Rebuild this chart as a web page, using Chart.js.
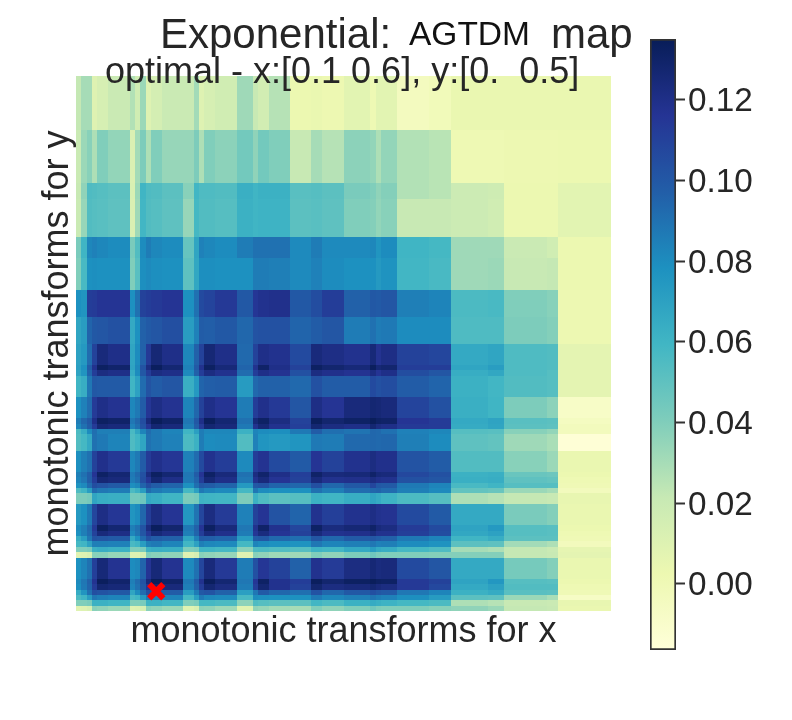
<!DOCTYPE html>
<html>
<head>
<meta charset="utf-8">
<title>Exponential: AGTDM map</title>
<script src="https://cdn.jsdelivr.net/npm/chart.js@4"></script>
<style>
	html, body { margin: 0; padding: 0; background: #fff; }
	#page { position: relative; width: 792px; height: 720px; overflow: hidden; font-family: "Liberation Sans", Arial, sans-serif; color: #262626; }
	#page canvas { position: absolute; top: 0; }
	.label { position: absolute; white-space: pre; line-height: 1; z-index: 2; }
</style>
</head>
<body>
<div id="page">
	<canvas id="heat" width="640" height="720" style="left:0"></canvas>
	<canvas id="bar" width="152" height="720" style="left:640px"></canvas>
	<div class="label" style="left:160px;top:13px;font-size:42px">Exponential:</div>
	<div class="label" style="left:409px;top:17px;font-size:33.5px;color:#111">AGTDM</div>
	<div class="label" style="left:551px;top:13px;font-size:42px">map</div>
	<div class="label" style="left:105px;top:53px;font-size:36px">optimal - x:[0.1 0.6], y:[0.  0.5]</div>
</div>
<script>
// band edges of the 100x100 map, rows counted from the top
var xEdges = [0,1,2,3,4,6,10,11,12,13,14,16,20,22,23,24,26,30,33,34,36,40,44,46,50,55,56,57,60,66,70,77,80,88,90,100];
var yEdges = [0,10,20,23,30,34,40,45,50,54,55,56,60,64,65,66,67,70,74,75,76,77,78,80,84,85,86,87,88,89,90,94,95,96,97,98,99,100];

// AGTDM values x 1000, one row per y band
var cellValues = [
	[22,30,30,10,14,20,27,17,33,10,15,20,20,31,10,14,17,32,21,16,26,3,4,2,8,1,8,8,-4,-2,4,4,4,4,4],
	[20,33,38,28,40,35,12,31,41,28,40,34,34,41,28,40,37,44,36,44,40,21,30,26,37,35,28,35,27,25,1,1,2,2,3],
	[21,36,55,54,53,51,13,33,60,55,54,51,38,59,55,55,54,63,60,62,62,52,53,51,42,40,36,39,27,25,19,18,3,3,8],
	[20,34,54,53,52,50,12,32,59,54,53,50,34,58,54,54,53,62,60,61,61,51,52,50,40,39,35,38,21,21,19,17,3,3,8],
	[42,60,82,84,82,80,42,54,80,86,82,80,48,68,84,82,80,86,90,90,90,81,86,81,81,82,76,80,60,58,32,32,20,17,3],
	[40,57,78,79,78,78,40,52,79,81,79,78,50,67,79,79,78,78,86,86,85,81,84,80,78,78,74,77,59,57,32,33,21,22,3],
	[78,76,112,113,116,116,78,90,110,112,114,116,78,90,106,109,114,100,115,118,119,100,105,112,96,100,99,101,85,83,56,57,40,38,2],
	[68,72,95,100,101,103,66,78,96,99,101,104,72,84,98,97,100,94,102,103,103,95,98,101,86,90,86,87,80,80,55,55,41,39,2],
	[70,74,92,110,124,120,68,80,96,114,126,120,82,96,110,126,120,93,110,120,118,106,124,121,118,125,117,121,110,108,66,68,55,54,7],
	[71,78,98,118,132,129,69,82,102,122,133,127,84,99,118,132,125,95,118,130,120,110,132,128,125,133,126,128,112,112,68,72,55,54,7],
	[69,76,95,112,122,120,65,80,100,112,122,120,81,96,112,122,118,92,112,120,117,103,122,119,117,122,116,120,105,101,64,67,55,53,7],
	[60,64,88,100,99,99,60,70,92,102,98,101,63,74,95,97,98,73,93,96,96,93,103,98,98,106,103,105,98,95,62,59,54,53,7],
	[78,84,92,113,120,117,82,87,98,115,121,117,83,94,110,120,116,86,112,119,114,101,121,116,124,127,126,124,109,103,63,60,41,37,-8],
	[86,94,100,120,132,130,88,94,105,124,134,130,88,100,120,133,127,90,125,131,122,110,133,128,131,134,131,130,116,113,66,69,52,51,-5],
	[82,90,98,113,126,124,84,91,102,115,127,124,85,97,113,127,124,87,118,126,118,111,127,122,120,127,122,120,114,113,65,68,51,50,-3],
	[56,64,80,91,85,85,57,68,83,92,87,83,60,71,86,82,82,62,83,80,79,87,98,91,89,94,93,90,84,82,53,52,38,35,-3],
	[54,58,66,90,87,83,55,60,68,90,87,84,56,62,86,80,81,54,84,76,74,76,87,86,93,94,93,94,85,80,50,49,32,29,-15],
	[79,85,90,110,119,114,82,87,98,113,119,115,84,92,106,118,112,81,112,117,106,99,116,110,118,122,119,119,102,98,54,54,38,33,4],
	[85,90,97,116,131,127,87,93,103,122,132,127,88,98,116,131,124,90,122,129,120,111,130,124,125,130,125,124,107,103,62,63,47,46,3],
	[83,88,97,112,126,124,86,91,104,115,127,120,87,95,112,126,120,88,118,124,116,110,124,118,119,122,119,118,103,101,63,64,50,49,1],
	[77,81,92,105,102,99,79,82,95,104,98,95,78,91,100,98,95,74,100,102,95,94,104,94,100,108,100,99,87,83,57,60,53,53,0],
	[55,60,72,92,88,86,56,62,72,92,87,84,58,70,87,83,81,58,88,80,78,78,90,85,92,94,95,92,85,81,49,47,33,30,-3],
	[41,41,43,68,64,63,44,44,46,66,64,60,41,43,61,60,59,41,62,55,51,53,62,60,64,68,65,61,56,53,28,26,22,21,5],
	[74,78,87,108,121,115,76,80,94,112,122,116,75,89,108,122,113,84,110,116,102,95,118,111,118,121,118,117,106,99,66,66,42,39,4],
	[80,85,93,114,132,127,85,90,102,122,133,128,87,96,116,132,124,88,118,130,118,108,131,123,126,130,124,122,113,106,69,74,53,52,3],
	[78,85,92,110,124,121,82,89,101,114,125,121,85,95,112,124,119,86,115,123,116,110,124,118,119,123,118,118,111,105,67,70,53,52,1],
	[64,72,88,102,101,99,66,78,92,103,98,96,68,84,98,97,95,72,98,100,93,91,101,94,99,101,98,96,87,83,60,64,51,51,0],
	[58,60,70,85,85,84,57,60,72,85,87,83,59,70,85,82,81,58,83,80,78,77,88,83,85,88,84,85,80,77,51,50,31,28,-3],
	[40,40,42,62,64,62,40,40,42,62,64,63,40,42,60,60,58,37,55,56,54,53,61,59,66,72,66,64,58,55,30,28,22,20,6],
	[9,10,13,38,38,34,10,10,14,40,38,36,10,14,38,36,34,10,38,36,32,32,40,36,41,45,41,40,40,39,39,39,22,21,7],
	[78,83,90,111,125,117,80,82,95,116,125,117,81,90,108,124,114,86,103,115,110,96,118,113,122,126,123,124,106,101,66,66,43,39,4],
	[81,88,96,117,133,129,85,92,102,124,134,130,87,98,118,133,127,88,115,131,118,112,133,128,132,134,132,131,114,110,69,75,53,52,3],
	[79,87,95,113,127,125,83,90,100,116,127,124,85,96,112,127,122,86,112,127,118,110,128,122,124,127,124,122,114,107,66,70,54,54,1],
	[65,76,90,104,102,100,68,80,92,104,101,98,72,86,100,102,96,71,88,99,94,91,102,94,100,104,101,99,88,83,62,65,52,51,0],
	[56,60,72,88,85,83,57,60,74,88,86,83,58,72,87,82,81,57,80,79,78,78,87,82,85,89,86,84,79,73,51,50,33,29,-7],
	[40,40,42,62,62,60,40,40,42,62,62,59,40,42,58,58,56,37,55,53,51,51,59,56,62,65,63,61,58,56,28,26,21,20,5],
	[9,10,13,38,36,33,9,10,14,38,36,33,9,13,37,36,32,9,36,34,31,30,40,36,40,45,41,40,40,38,36,33,22,21,4]
];

// colour map stops and colour bar range
var cmapColors = ['#ffffd9','#edf8b1','#c7e9b4','#7fcdbb','#41b6c4','#1d91c0','#225ea8','#253494','#081d58'];
var valueMin = -0.01644;
var valueMax = 0.13505;
var colorbarTicks = [0, 0.02, 0.04, 0.06, 0.08, 0.10, 0.12];

// optimal point, in map index units
var optimalX = [15];
var optimalY = [96.3];

var xTitle = 'monotonic transforms for x';
var yTitle = 'monotonic transforms for y';
var textColor = '#262626';

function hexToRgb(hex){
	return [parseInt(hex.substr(1,2),16), parseInt(hex.substr(3,2),16), parseInt(hex.substr(5,2),16)];
}

function colorFor(value){
	var t = (value - valueMin) / (valueMax - valueMin);
	t = Math.max(0, Math.min(1, t)) * (cmapColors.length - 1);
	var i = Math.min(Math.floor(t), cmapColors.length - 2);
	var a = hexToRgb(cmapColors[i]);
	var b = hexToRgb(cmapColors[i+1]);
	var f = t - i;
	return 'rgb(' + Math.round(a[0]+(b[0]-a[0])*f) + ',' + Math.round(a[1]+(b[1]-a[1])*f) + ',' + Math.round(a[2]+(b[2]-a[2])*f) + ')';
}

var heatCells = {
	id: 'heatCells',
	beforeDatasetsDraw: function(chart){
		var ctx = chart.ctx;
		var sx = chart.scales.x;
		var sy = chart.scales.y;
		ctx.save();
		for(var r = 0; r < cellValues.length; r++){
			var top = Math.round(sy.getPixelForValue(yEdges[r]));
			var bottom = Math.round(sy.getPixelForValue(yEdges[r+1]));
			for(var c = 0; c < cellValues[r].length; c++){
				var left = Math.round(sx.getPixelForValue(xEdges[c]));
				var right = Math.round(sx.getPixelForValue(xEdges[c+1]));
				ctx.fillStyle = colorFor(cellValues[r][c] / 1000);
				ctx.fillRect(left, top, right - left, bottom - top);
			}
		}
		ctx.restore();
	}
};

new Chart(document.getElementById('heat'), {
	type: 'scatter',
	data: {
		datasets: [{
			label: 'optimal',
			data: optimalX.map(function(x, i){ return {x: x, y: optimalY[i]}; }),
			pointStyle: 'crossRot',
			pointRadius: 10,
			borderColor: '#ff0000',
			backgroundColor: '#ff0000',
			pointBorderWidth: 6
		}]
	},
	options: {
		responsive: false,
		animation: false,
		devicePixelRatio: 1,
		layout: { padding: { left: 40, top: 76, right: 29, bottom: 70 } },
		plugins: { legend: { display: false }, tooltip: { enabled: false } },
		scales: {
			x: {
				type: 'linear', min: 0, max: 100,
				grid: { display: false, drawTicks: false }, border: { display: false }, ticks: { display: false },
				title: { display: true, text: xTitle, color: textColor, padding: { top: 3, bottom: 0 }, font: { family: 'Liberation Sans', size: 36, lineHeight: 1 } }
			},
			y: {
				type: 'linear', min: 0, max: 100, reverse: true,
				grid: { display: false, drawTicks: false }, border: { display: false }, ticks: { display: false },
				title: { display: true, text: yTitle, color: textColor, padding: 0, font: { family: 'Liberation Sans', size: 36, lineHeight: 1 } }
			}
		}
	},
	plugins: [heatCells]
});

new Chart(document.getElementById('bar'), {
	type: 'bar',
	data: {
		labels: [''],
		datasets: [{
			data: [[valueMin, valueMax]],
			barPercentage: 1,
			categoryPercentage: 1,
			borderColor: '#333333',
			borderWidth: 2,
			borderSkipped: false,
			backgroundColor: function(context){
				var area = context.chart.chartArea;
				if(!area){
					return cmapColors[0];
				}
				var grad = context.chart.ctx.createLinearGradient(0, area.bottom, 0, area.top);
				cmapColors.forEach(function(col, i){
					grad.addColorStop(i / (cmapColors.length - 1), col);
				});
				return grad;
			}
		}]
	},
	options: {
		responsive: false,
		animation: false,
		devicePixelRatio: 1,
		layout: { padding: { left: 10, top: 39, right: 0, bottom: 70 } },
		plugins: { legend: { display: false }, tooltip: { enabled: false } },
		scales: {
			x: { display: false },
			y: {
				position: 'right',
				min: valueMin,
				max: valueMax,
				afterBuildTicks: function(scale){
					scale.ticks = colorbarTicks.map(function(v){ return {value: v}; });
				},
				afterFit: function(scale){
					scale.width = 116;
				},
				border: { display: false },
				grid: { drawOnChartArea: false, drawTicks: true, tickLength: 9, tickColor: '#333333', tickWidth: 2 },
				ticks: {
					color: textColor, padding: 3, labelOffset: 2.5,
					font: { family: 'Liberation Sans', size: 33.3 },
					callback: function(v){ return Number(v).toFixed(2); }
				}
			}
		}
	}
});
</script>
</body>
</html>
